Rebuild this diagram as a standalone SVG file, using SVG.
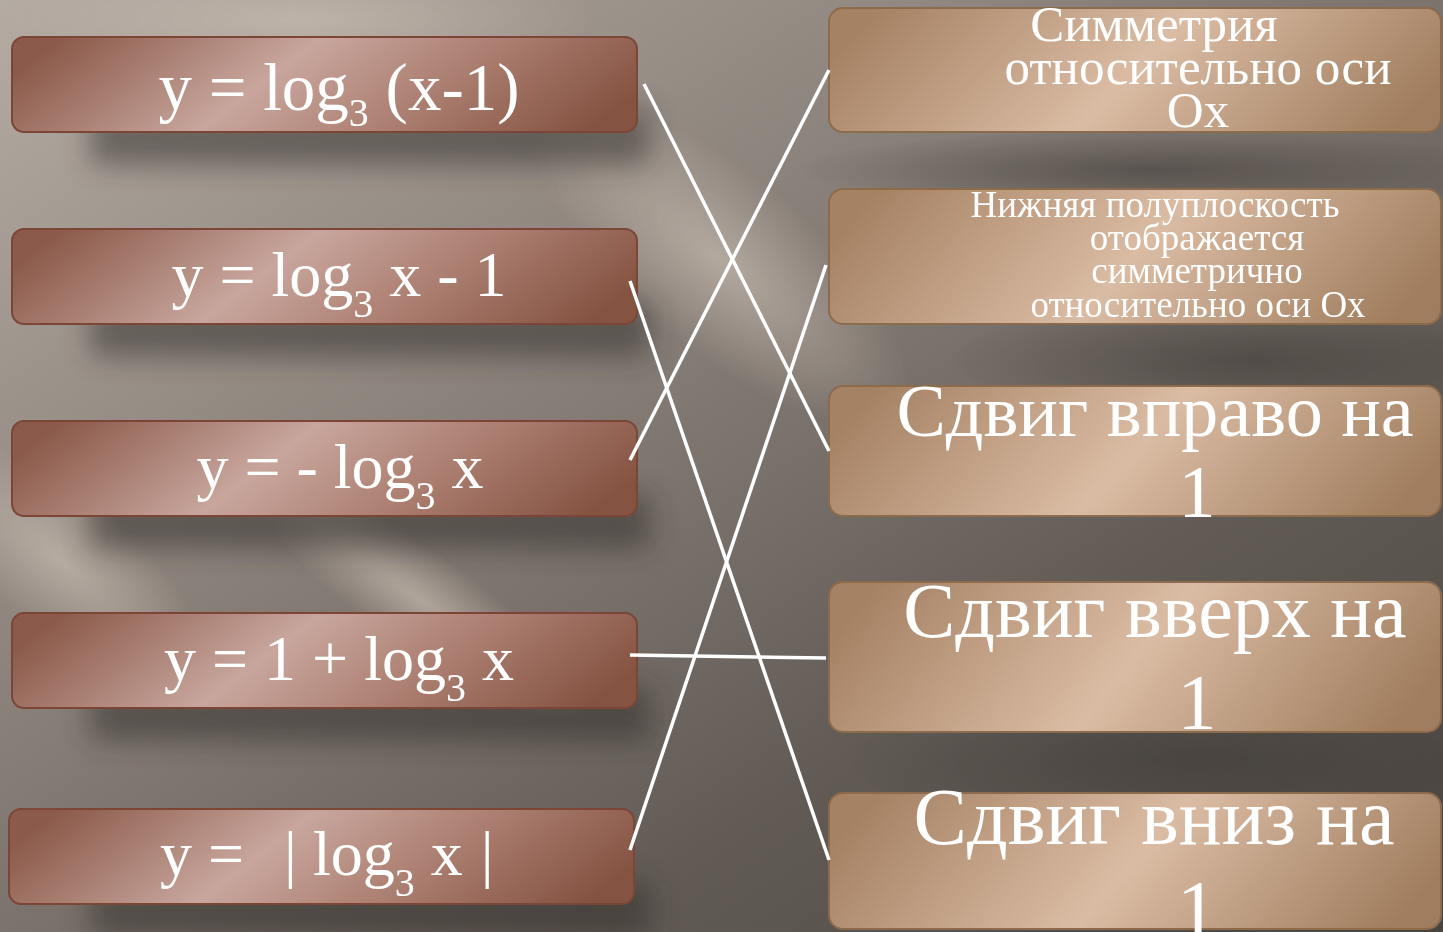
<svg xmlns="http://www.w3.org/2000/svg" width="1443" height="932" viewBox="0 0 1443 932">
<defs>
<linearGradient id="bg" x1="0" y1="0" x2="1" y2="1">
<stop offset="0" stop-color="#b4aba3"/>
<stop offset="0.35" stop-color="#8d847d"/>
<stop offset="0.7" stop-color="#625b55"/>
<stop offset="1" stop-color="#4a4440"/>
</linearGradient>
<radialGradient id="glow" cx="0.5" cy="0.5" r="0.5">
<stop offset="0" stop-color="#c8bdb2" stop-opacity="0.75"/>
<stop offset="1" stop-color="#c8bdb2" stop-opacity="0"/>
</radialGradient>
<radialGradient id="dark" cx="0.5" cy="0.5" r="0.5">
<stop offset="0" stop-color="#3e3935" stop-opacity="0.6"/>
<stop offset="1" stop-color="#3e3935" stop-opacity="0"/>
</radialGradient>
<linearGradient id="lg" x1="0" y1="0.4" x2="1" y2="0.6">
<stop offset="0" stop-color="#8b5a4a"/>
<stop offset="0.4" stop-color="#c8a69d"/>
<stop offset="0.62" stop-color="#b2877a"/>
<stop offset="1" stop-color="#855342"/>
</linearGradient>
<linearGradient id="rg" x1="0" y1="0.4" x2="1" y2="0.6">
<stop offset="0" stop-color="#a68264"/>
<stop offset="0.5" stop-color="#dabca4"/>
<stop offset="1" stop-color="#a07d5e"/>
</linearGradient>
<filter id="blur" x="-20%" y="-50%" width="140%" height="200%"><feGaussianBlur stdDeviation="14"/></filter>
<style>
.lb{fill:url(#lg);stroke:#7b4636;stroke-width:2}
.rb{fill:url(#rg);stroke:#8c6a4c;stroke-width:2}
.sh{fill:#2f2a27;opacity:0.5;filter:url(#blur)}
.f{font-family:"Liberation Serif","Times New Roman",serif;fill:#ffffff}
.c{stroke:#ffffff;stroke-width:3.5;fill:none;stroke-linecap:butt}
</style>
</defs>
<rect width="1443" height="932" fill="url(#bg)"/>
<g opacity="0.9">
<ellipse cx="720" cy="260" rx="240" ry="90" fill="url(#glow)" transform="rotate(40 720 260)"/>
<ellipse cx="60" cy="560" rx="180" ry="70" fill="url(#glow)" transform="rotate(40 60 560)"/>
<ellipse cx="300" cy="20" rx="300" ry="60" fill="url(#glow)"/>
<ellipse cx="420" cy="600" rx="200" ry="50" fill="url(#glow)" transform="rotate(35 420 600)"/>
<ellipse cx="1250" cy="360" rx="300" ry="60" fill="url(#dark)"/>
<ellipse cx="1200" cy="760" rx="350" ry="80" fill="url(#dark)"/>
<ellipse cx="1150" cy="170" rx="350" ry="40" fill="url(#dark)"/>
</g>
<g id="shadows">
<rect class="sh" x="90" y="110" width="560" height="55" rx="10"/>
<rect class="sh" x="90" y="302" width="560" height="55" rx="10"/>
<rect class="sh" x="90" y="494" width="560" height="55" rx="10"/>
<rect class="sh" x="90" y="686" width="560" height="55" rx="10"/>
<rect class="sh" x="90" y="882" width="560" height="55" rx="10"/>
</g>
<g id="left1"><rect class="lb" x="12" y="37" width="625" height="95" rx="12"/>
<text class="f" x="339" y="110" font-size="67" text-anchor="middle">y = log<tspan font-size="40" dy="16">3</tspan><tspan dy="-16"> (x-1)</tspan></text></g>
<g id="left2"><rect class="lb" x="12" y="229" width="625" height="95" rx="12"/>
<text class="f" x="339" y="296" font-size="64" text-anchor="middle">y = log<tspan font-size="40" dy="21">3</tspan><tspan dy="-21"> x - 1</tspan></text></g>
<g id="left3"><rect class="lb" x="12" y="421" width="625" height="95" rx="12"/>
<text class="f" x="340" y="488" font-size="64" text-anchor="middle">y = - log<tspan font-size="40" dy="21">3</tspan><tspan dy="-21"> x</tspan></text></g>
<g id="left4"><rect class="lb" x="12" y="613" width="625" height="95" rx="12"/>
<text class="f" x="339" y="680" font-size="64" text-anchor="middle">y = 1 + log<tspan font-size="40" dy="21">3</tspan><tspan dy="-21"> x</tspan></text></g>
<g id="left5"><rect class="lb" x="9" y="809" width="625" height="95" rx="12"/>
<text class="f" x="160" y="875" font-size="64">y = <tspan dx="24">| log</tspan><tspan font-size="40" dy="21">3</tspan><tspan dy="-21"> x</tspan><tspan dx="18">|</tspan></text></g>
<g id="right1"><rect class="rb" x="829" y="8" width="612" height="124" rx="14"/>
<text class="f" font-size="51" text-anchor="middle"><tspan x="1154" y="41">Симметрия</tspan><tspan x="1198" y="84">относительно оси</tspan><tspan x="1198" y="127">Ох</tspan></text></g>
<g id="right2"><rect class="rb" x="829" y="189" width="612" height="135" rx="14"/>
<text class="f" font-size="37" text-anchor="middle"><tspan x="1155" y="217">Нижняя полуплоскость</tspan><tspan x="1197" y="250">отображается</tspan><tspan x="1197" y="283">симметрично</tspan><tspan x="1198" y="317">относительно оси Ох</tspan></text></g>
<g id="right3"><rect class="rb" x="829" y="386" width="612" height="130" rx="14"/>
<text class="f" font-size="74" text-anchor="middle"><tspan x="1155" y="436">Сдвиг вправо на</tspan><tspan x="1197" y="517">1</tspan></text></g>
<g id="right4"><rect class="rb" x="829" y="582" width="612" height="150" rx="14"/>
<text class="f" font-size="78" text-anchor="middle"><tspan x="1155" y="637">Сдвиг вверх на</tspan><tspan x="1197" y="728">1</tspan></text></g>
<g id="right5"><rect class="rb" x="829" y="793" width="612" height="136" rx="14"/>
<text class="f" font-size="80" text-anchor="middle"><tspan x="1154" y="844">Сдвиг вниз на</tspan><tspan x="1197" y="936">1</tspan></text></g>
<g id="connectors">
<line class="c" x1="644" y1="84" x2="829" y2="451"/>
<line class="c" x1="630" y1="281" x2="829" y2="860"/>
<line class="c" x1="630" y1="460" x2="829" y2="70"/>
<line class="c" x1="630" y1="655" x2="826" y2="658"/>
<line class="c" x1="630" y1="850" x2="826" y2="265"/>
</g>
</svg>
